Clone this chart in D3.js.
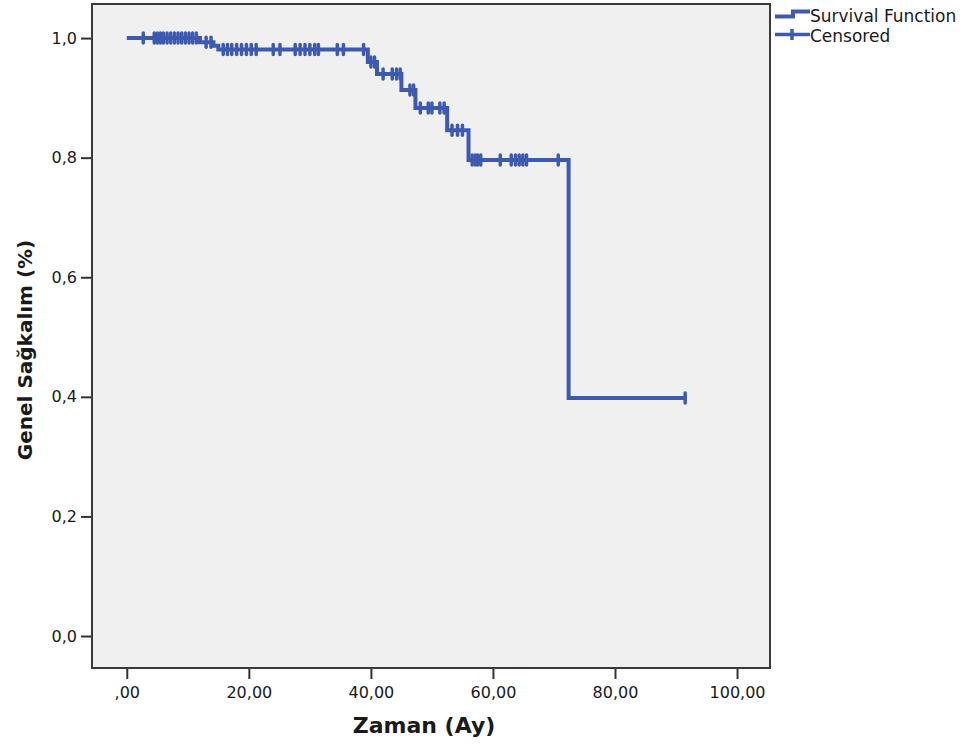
<!DOCTYPE html>
<html>
<head>
<meta charset="utf-8">
<script src="https://cdn.jsdelivr.net/npm/d3@7"></script>
<style>
  body { margin: 0; background: #fff; }
  text { font-family: "DejaVu Sans", sans-serif; fill: #1a1a1a; }
</style>
</head>
<body>
<div id="chart"></div>
<script>
// Kaplan-Meier steps: time (months) where survival drops, and new survival value
const eventTimes = [12.0, 14.2, 15.0, 39.5, 41.0, 45.0, 47.3, 52.5, 56.0, 72.4]
const survival   = [0.993, 0.987, 0.981, 0.960, 0.940, 0.913, 0.883, 0.846, 0.796, 0.398]

// censored observation times (months)
const censoredTimes = [
  2.7, 4.5, 5.0, 5.5, 6.0, 6.6, 7.2, 7.8, 8.4, 9.0, 9.6, 10.2, 10.8, 11.4,
  13.0, 13.8,
  15.8, 16.5, 17.2, 18.0, 18.8, 19.6, 20.4, 21.2, 24.0, 25.1, 27.6, 28.4,
  29.2, 30.0, 30.8, 31.4, 34.5, 35.5, 38.8,
  40.0, 40.6,
  42.0, 43.5, 44.2, 44.8,
  46.4, 47.0,
  48.1, 49.4, 50.0, 51.3, 52.0,
  53.3, 54.2, 55.0,
  56.6, 57.1, 57.5, 58.0, 61.2, 63.0, 63.7, 64.3, 64.9, 65.5, 70.7,
  91.5
]

const xTicks = [0, 20, 40, 60, 80, 100]
const yTicks = [0, 0.2, 0.4, 0.6, 0.8, 1.0]
const X_DOMAIN = [-5.7, 105.4]
const Y_DOMAIN = [-0.0535, 1.057]

const MARGIN = {top: 4, right: 200, bottom: 79, left: 92}
const WIDTH = 970 - MARGIN.left - MARGIN.right
const HEIGHT = 747 - MARGIN.top - MARGIN.bottom
const LINE_COLOR = "#3d5ab0"

const fmtX = d => d === 0 ? ",00" : d3.format(".2f")(d).replace(".", ",")
const fmtY = d => d3.format(".1f")(d).replace(".", ",")

function survAt(t) {
  let s = 1
  eventTimes.forEach((e, i) => { if (t >= e) s = survival[i] })
  return s
}

const svg = d3.select("#chart")
  .append("svg")
  .attr("width", 970)
  .attr("height", 747)

const g = svg.append("g")
  .attr("transform", "translate(" + MARGIN.left + "," + MARGIN.top + ")")

const xScale = d3.scaleLinear().domain(X_DOMAIN).range([0, WIDTH])
const yScale = d3.scaleLinear().domain(Y_DOMAIN).range([HEIGHT, 0])

g.append("rect")
  .attr("width", WIDTH)
  .attr("height", HEIGHT)
  .attr("fill", "#f0f0f0")

// axes
const xAxis = g.append("g")
  .attr("transform", "translate(0," + HEIGHT + ")")
  .call(d3.axisBottom(xScale).tickValues(xTicks).tickFormat(fmtX).tickSize(11).tickSizeOuter(0).tickPadding(8))
xAxis.select(".domain").remove()
xAxis.selectAll("line").attr("stroke", "#333").attr("stroke-width", 2)
xAxis.selectAll("text").style("font-size", "16px").attr("fill", "#111")

const yAxis = g.append("g")
  .call(d3.axisLeft(yScale).tickValues(yTicks).tickFormat(fmtY).tickSize(11).tickSizeOuter(0).tickPadding(4))
yAxis.select(".domain").remove()
yAxis.selectAll("line").attr("stroke", "#333").attr("stroke-width", 2)
yAxis.selectAll("text").style("font-size", "16px").attr("fill", "#111")

g.append("rect")
  .attr("width", WIDTH)
  .attr("height", HEIGHT)
  .attr("fill", "none")
  .attr("stroke", "#3a3a3a")
  .attr("stroke-width", 2)

// survival step line
const lastT = d3.max(censoredTimes)
const pts = [[0, 1]].concat(eventTimes.map((t, i) => [t, survival[i]])).concat([[lastT, survAt(lastT)]])

const line = d3.line()
  .x(d => xScale(d[0]))
  .y(d => yScale(d[1]))
  .curve(d3.curveStepAfter)

g.append("path")
  .datum(pts)
  .attr("fill", "none")
  .attr("stroke", LINE_COLOR)
  .attr("stroke-width", 4)
  .attr("d", line)

g.selectAll(".cens")
  .data(censoredTimes)
  .enter()
  .append("line")
  .attr("class", "cens")
  .attr("x1", d => xScale(d))
  .attr("x2", d => xScale(d))
  .attr("y1", d => yScale(survAt(d)) - 5)
  .attr("y2", d => yScale(survAt(d)) + 5)
  .attr("stroke", LINE_COLOR)
  .attr("stroke-width", 3.5)
  .attr("stroke-linecap", "round")

// axis titles
g.append("text")
  .attr("x", WIDTH / 2 - 7)
  .attr("y", HEIGHT + 65)
  .attr("text-anchor", "middle")
  .style("font-size", "22px")
  .style("font-weight", "bold")
  .text("Zaman (Ay)")

g.append("text")
  .attr("transform", "translate(-60," + (HEIGHT / 2 + 14) + ") rotate(-90)")
  .attr("text-anchor", "middle")
  .style("font-size", "20px")
  .style("font-weight", "bold")
  .text("Genel Sağkalım (%)")

// legend
const lg = svg.append("g").attr("transform", "translate(" + (MARGIN.left + WIDTH + 5) + ",0)")
lg.append("path")
  .attr("d", "M0,16.5H18V11.5H35")
  .attr("fill", "none")
  .attr("stroke", LINE_COLOR)
  .attr("stroke-width", 4)
lg.append("text").attr("x", 35).attr("y", 22).style("font-size", "17px").text("Survival Function")
lg.append("path")
  .attr("d", "M0,34.5H35M17,29V40")
  .attr("fill", "none")
  .attr("stroke", LINE_COLOR)
  .attr("stroke-width", 3.5)
lg.append("text").attr("x", 35).attr("y", 42).style("font-size", "17px").text("Censored")
</script>
</body>
</html>
